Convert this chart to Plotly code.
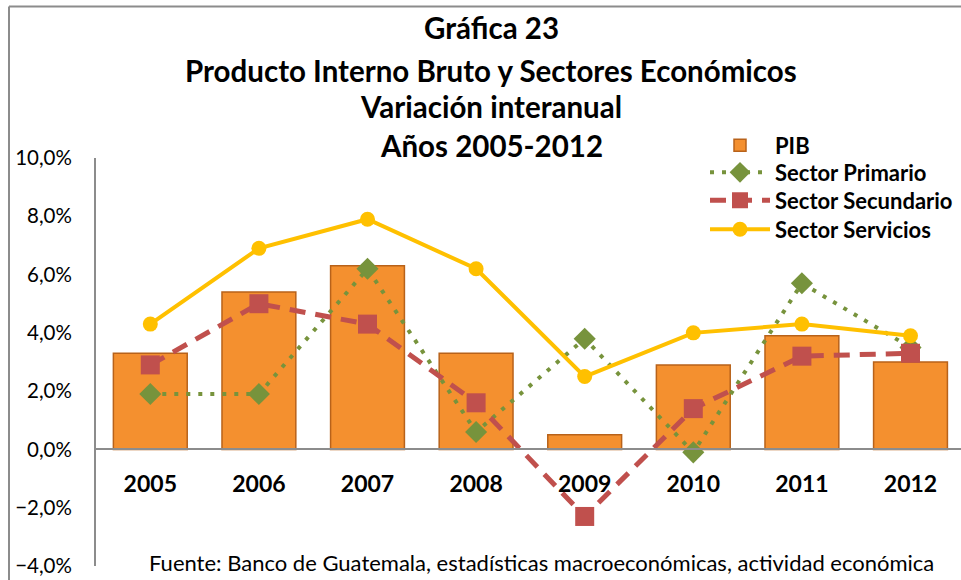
import plotly.graph_objects as go

years = ["2005", "2006", "2007", "2008", "2009", "2010", "2011", "2012"]
pib = [3.3, 5.4, 6.3, 3.3, 0.5, 2.9, 3.9, 3.0]
primario = [1.9, 1.9, 6.2, 0.6, 3.8, -0.1, 5.7, 3.5]
secundario = [2.9, 5.0, 4.3, 1.6, -2.3, 1.4, 3.2, 3.3]
servicios = [4.3, 6.9, 7.9, 6.2, 2.5, 4.0, 4.3, 3.9]

title_lines = ["Gráfica 23", "Producto Interno Bruto y Sectores Económicos",
               "Variación interanual", "Años 2005-2012"]
fuente = "Fuente: Banco de Guatemala, estadísticas macroeconómicas, actividad económica"

W, H = 961, 580
L, R = 96, 0
T = 157.5
B = 14.4
PW, PH = W - L - R, H - T - B


def px(x):
    return (x - L) / PW


def py(y):
    return (H - B - y) / PH


FONT = "Lato"

fig = go.Figure()
fig.add_trace(go.Bar(
    x=years, y=pib, name="PIB", width=0.68, legend="legend",
    marker=dict(color="#F4902F", line=dict(color="#B8621A", width=1.5)),
))
fig.add_trace(go.Scatter(
    x=years, y=primario, name="Sector Primario", mode="lines+markers", legend="legend2",
    line=dict(color="#77933C", width=4, dash="4px,8px"),
    marker=dict(symbol="diamond", size=17, color="#77933C"),
))
fig.add_trace(go.Scatter(
    x=years, y=secundario, name="Sector Secundario", mode="lines+markers", legend="legend3",
    line=dict(color="#C0504D", width=5, dash="16px,10px"),
    marker=dict(symbol="square", size=19, color="#C0504D"),
))
fig.add_trace(go.Scatter(
    x=years, y=servicios, name="Sector Servicios", mode="lines+markers", legend="legend4",
    line=dict(color="#FFC000", width=4),
    marker=dict(symbol="circle", size=15, color="#FFC000"),
))

ann = []
for txt, yy in zip(title_lines, [27, 70, 106, 145]):
    ann.append(dict(text="<b>%s</b>" % txt, x=px(491), y=py(yy), xref="paper", yref="paper",
                    xanchor="center", yanchor="middle", showarrow=False,
                    font=dict(family=FONT, size=29.5, color="black")))
ann.append(dict(text=fuente, x=px(541), y=py(562), xref="paper", yref="paper",
                xanchor="center", yanchor="middle", showarrow=False,
                font=dict(family=FONT, size=22, color="black")))


def leg(yc):
    return dict(x=px(705), y=py(yc), xanchor="left", yanchor="middle",
                bgcolor="rgba(0,0,0,0)", itemwidth=60, borderwidth=0,
                font=dict(family=FONT, size=22, color="black", weight="bold"))


fig.update_layout(
    width=W, height=H,
    margin=dict(l=L, r=R, t=T, b=B, pad=0),
    paper_bgcolor="white", plot_bgcolor="white",
    separators=", ",
    showlegend=True,
    legend=leg(145), legend2=leg(172), legend3=leg(200), legend4=leg(229),
    annotations=ann,
    xaxis=dict(type="category", range=[-0.5, 7.465], anchor="free", position=py(449),
               showline=True, linecolor="#8C8C8C", linewidth=2, ticks="",
               showgrid=False, ticklabelstandoff=14,
               tickfont=dict(family=FONT, size=23, color="black", weight="bold")),
    yaxis=dict(range=[-4, 10], dtick=2, tickformat=".1f", ticksuffix="%",
               showline=True, linecolor="#8C8C8C", linewidth=2, ticks="",
               showgrid=False, zeroline=False, ticklabelstandoff=18,
               tickfont=dict(family=FONT, size=20.5, color="black")),
    shapes=[dict(type="line", xref="paper", yref="paper",
                 x0=px(9), x1=px(9), y0=py(600), y1=py(6),
                 line=dict(color="#8C8C8C", width=2), layer="above"),
            dict(type="line", xref="paper", yref="paper",
                 x0=px(9), x1=px(990), y0=py(6), y1=py(6),
                 line=dict(color="#8C8C8C", width=2), layer="above")],
)

fig.write_html("out.html", config={"displayModeBar": False},
               post_script="document.body.style.margin='0';document.body.style.overflow='hidden';")
